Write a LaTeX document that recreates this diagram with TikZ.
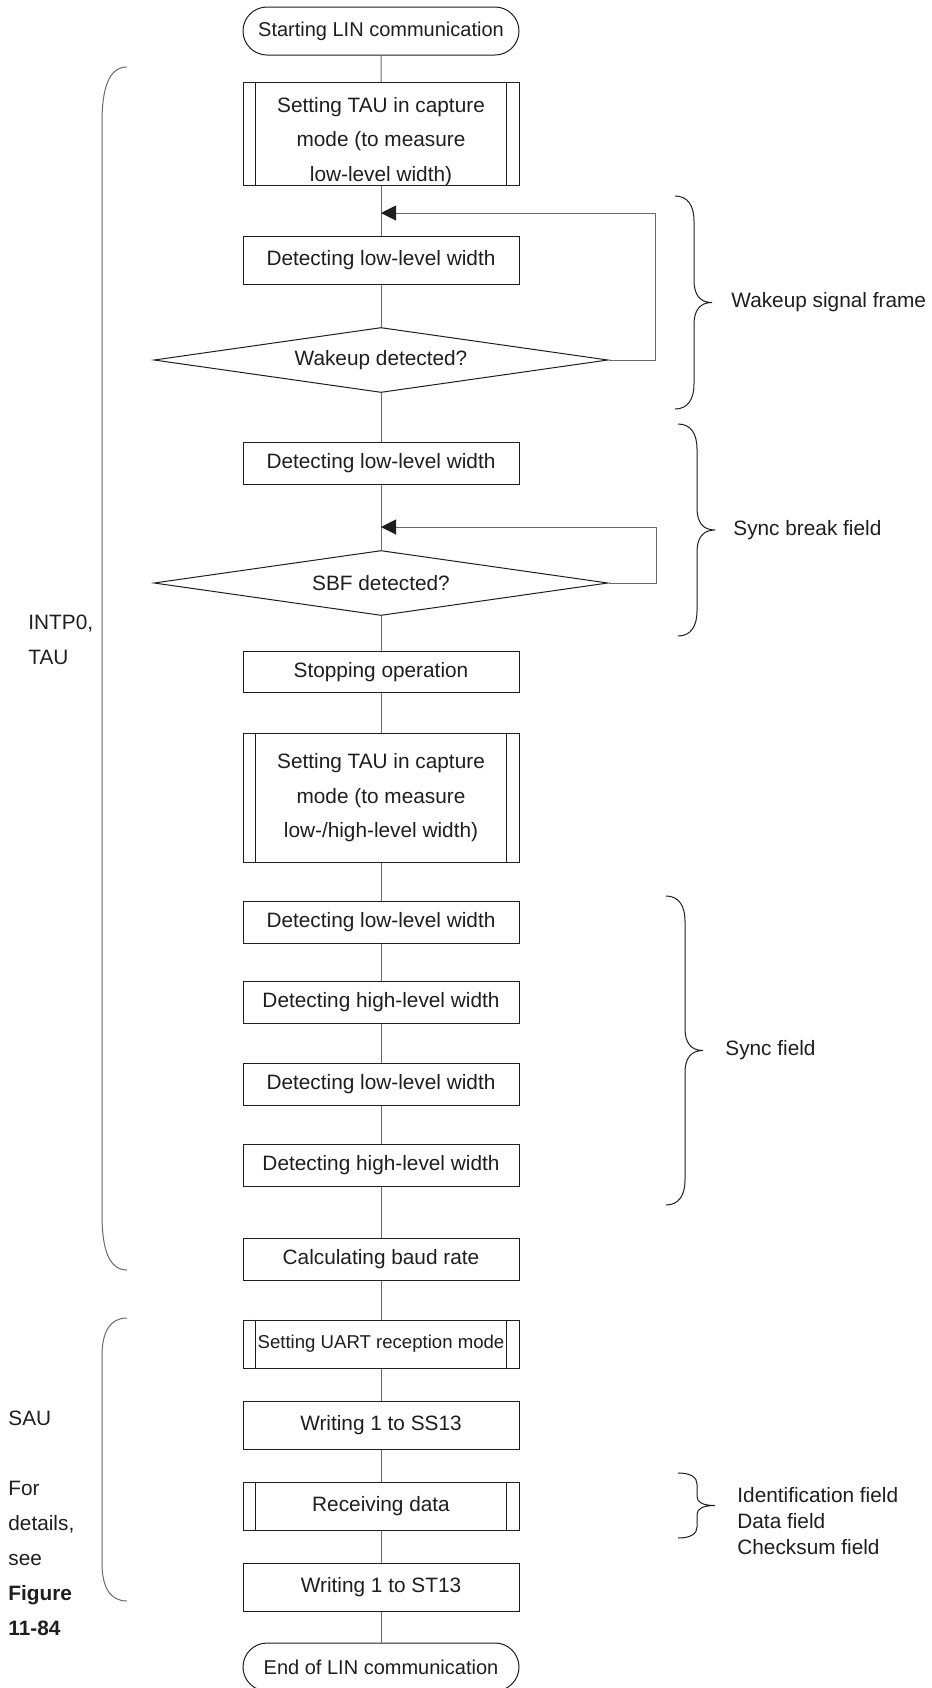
\documentclass[tikz,border=0pt]{standalone}
\usepackage{fontspec}
\setmainfont{Liberation Sans}
\usetikzlibrary{positioning,arrows.meta,shapes.geometric,shapes.misc}
\definecolor{ink}{HTML}{1E1E1E}
\definecolor{wire}{HTML}{6A6A6A}
\newcommand{\txt}{\fontsize{10.4}{17.2}\selectfont}
\tikzset{
  flow/.style={line width=0.5pt, color=wire},
  back/.style={flow, -{Triangle[length=7.5pt,width=7.5pt,color=ink]}},
  box/.style={draw=ink, line width=0.5pt, minimum width=138pt, minimum height=#1,
    inner sep=0pt, align=center, font=\txt, text=ink},
  box/.default=24pt,
  dec/.style={diamond, aspect=7, draw=ink, line width=0.5pt, inner sep=0pt,
    minimum width=227pt, minimum height=32.5pt, font=\txt, text=ink},
  term/.style={rounded rectangle, draw=ink, line width=0.5pt, inner sep=0pt,
    minimum width=138pt, minimum height=24pt, font=\fontsize{10}{12}\selectfont, text=ink},
  brc/.style={line width=0.5pt, color=ink},
  paren/.style={line width=0.5pt, color=wire},
  note/.style={font=\fontsize{10.4}{17.5}\selectfont, text=ink, align=left, anchor=west, inner sep=0pt},
}
\begin{document}
\begin{tikzpicture}[x=0.5pt,y=-0.5pt]
  \useasboundingbox (0,0) rectangle (932,1688);
  % main column
  \node[term] (start) at (381,31) {Starting LIN communication};
  \node[box=51pt] (tau1) at (381,134) {\rule{0pt}{15pt}Setting TAU in capture\\mode (to measure\\low-level width)};
  \coordinate (j1) at (381,213);
  \node[box] (detwake) at (381,260) {Detecting low-level width};
  \node[dec] (wake) at (381,360) {Wakeup detected?};
  \node[box=21pt] (detbrk) at (381,463) {Detecting low-level width};
  \coordinate (j2) at (381,527);
  \node[dec] (sbf) at (381,583) {SBF detected?};
  \node[box=20.5pt] (stop) at (381,672) {Stopping operation};
  \node[box=64.5pt] (tau2) at (381,798) {Setting TAU in capture\\mode (to measure\\low-/high-level width)};
  \node[box=21pt] (lo1) at (381,922) {Detecting low-level width};
  \node[box=21pt] (hi1) at (381,1002) {Detecting high-level width};
  \node[box=21pt] (lo2) at (381,1084) {Detecting low-level width};
  \node[box=21pt] (hi2) at (381,1165) {Detecting high-level width};
  \node[box=21pt] (baud) at (381,1259) {Calculating baud rate};
  \node[box, font=\fontsize{9.3}{11}\selectfont] (uart) at (381,1344) {Setting UART reception mode};
  \node[box] (ss13) at (381,1425) {Writing 1 to SS13};
  \node[box] (recv) at (381,1506) {Receiving data};
  \node[box] (st13) at (381,1587) {Writing 1 to ST13};
  \node[term] (fin) at (381,1667) {End of LIN communication};
  % predefined-process side bars
  \foreach \n in {tau1,tau2,uart,recv} {
    \draw[brc] ([xshift=6.5pt]\n.north west) -- ([xshift=6.5pt]\n.south west);
    \draw[brc] ([xshift=-6.5pt]\n.north east) -- ([xshift=-6.5pt]\n.south east);
  }
  % connectors
  \foreach \a/\b in {start/tau1,tau1/detwake,detwake/wake,wake/detbrk,detbrk/sbf,sbf/stop,
    stop/tau2,tau2/lo1,lo1/hi1,hi1/lo2,lo2/hi2,hi2/baud,baud/uart,uart/ss13,ss13/recv,
    recv/st13,st13/fin} \draw[flow] (\a) -- (\b);
  \draw[back] (wake.east) -- ++(47,0) |- (j1);
  \draw[back] (sbf.east) -- ++(48,0) |- (j2);
  % right braces
  \foreach \x/\t/\b/\e/\c in {675/196/409/25/22,678/424/636/25/22,666/896/1205/25/22,678/1473/1538/11/9} {
    \pgfmathsetmacro{\m}{(\t+\b)/2}
    \draw[brc] (\x,\t) .. controls (\x+13,\t) and (\x+19,\t+0.4*\e) .. (\x+19,\t+\e)
      -- (\x+19,\m-\c) .. controls (\x+19,\m-0.35*\c) and (\x+25,\m) .. (\x+37,\m)
      .. controls (\x+25,\m) and (\x+19,\m+0.35*\c) .. (\x+19,\m+\c)
      -- (\x+19,\b-\e) .. controls (\x+19,\b-0.4*\e) and (\x+13,\b) .. (\x,\b);
  }
  \node[note] (lwake) at (731,302) {Wakeup signal frame};
  \node[note] (lbrk) at (733,530) {Sync break field};
  \node[note] (lsync) at (725,1050) {Sync field};
  \node[note, font=\fontsize{10.4}{13}\selectfont] (lrecv) at (737,1521) {Identification field\\Data field\\Checksum field};
  % left brackets
  \draw[paren] (127,67) .. controls (109,67) and (102,88) .. (102,122)
    -- (102,1215) .. controls (102,1249) and (109,1270) .. (127,1270);
  \draw[paren] (127,1318) .. controls (110,1318) and (102,1332) .. (102,1356)
    -- (102,1563) .. controls (102,1587) and (110,1601) .. (127,1601);
  \node[note] (ltau) at (28,640) {INTP0,\\TAU};
  \node[note] (lsau) at (8,1418) {SAU};
  \node[note] (lsee) at (8,1558) {For\\details,\\see\\\textbf{Figure}\\\textbf{11-84}};
\end{tikzpicture}
\end{document}
